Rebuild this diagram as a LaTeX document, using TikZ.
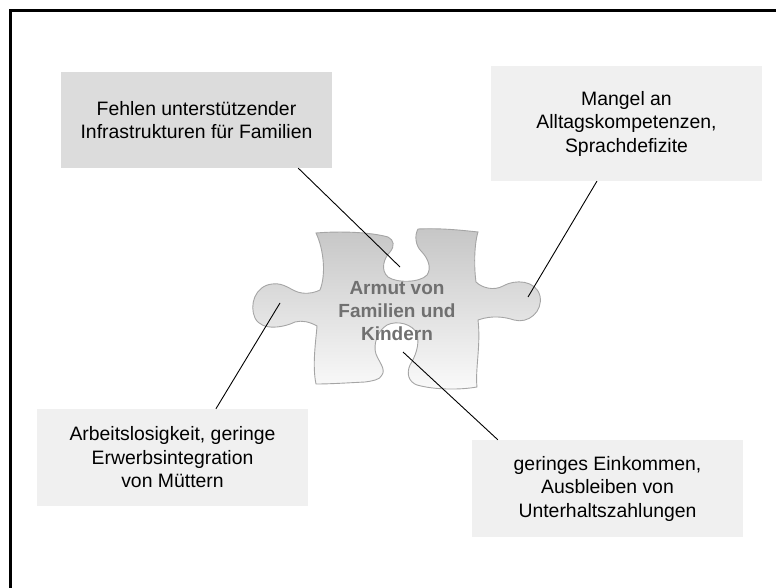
\documentclass[tikz,border=0pt]{standalone}
\usepackage{fontspec}
\setmainfont{Liberation Sans}
\usetikzlibrary{calc}
\definecolor{boxdark}{RGB}{220,220,220}
\definecolor{boxlight}{RGB}{240,240,240}
\definecolor{puzzletop}{RGB}{198,198,198}
\definecolor{puzzlebot}{RGB}{250,250,250}
\definecolor{puzzleline}{RGB}{165,165,165}
\definecolor{labelgray}{RGB}{112,112,112}
\tikzset{
  causebox/.style={fill=boxlight, draw=none, inner sep=0pt, minimum width=271pt,
    align=center, text=black, font=\fontsize{19.4}{23.5}\selectfont},
  connector/.style={draw=black, line width=0.9pt},
  frameline/.style={draw=black, line width=3pt},
}
\begin{document}
\begin{tikzpicture}[x=1pt,y=-1pt]
\useasboundingbox (0,0) rectangle (776,588);
% frame (only top and left edges visible)
\draw[frameline] (10,600) -- (10,10.7) -- (790,10.7);
% puzzle piece
\shade[top color=puzzletop, bottom color=puzzlebot, draw=puzzleline, line width=0.9pt]
 (316,233) .. controls (340,231) and (370,232) .. (388,237)
 .. controls (394,240) and (395,246) .. (390,252)
 .. controls (384,258) and (380,270) .. (388,277)
 .. controls (396,283) and (420,283) .. (427,275)
 .. controls (432,268) and (428,258) .. (421,251)
 .. controls (416,246) and (414,236) .. (418,229)
 .. controls (440,228) and (460,230) .. (478,232)
 .. controls (474,245) and (474,268) .. (476,282)
 .. controls (482,288) and (494,291) .. (503,286)
 .. controls (515,279) and (536,280) .. (540,296)
 .. controls (543,312) and (528,324) .. (514,320)
 .. controls (505,317) and (492,315) .. (478,320)
 .. controls (481,345) and (475,370) .. (477,387)
 .. controls (460,390) and (435,390) .. (417,385)
 .. controls (409,382) and (406,374) .. (410,365)
 .. controls (415,357) and (420,345) .. (417,334)
 .. controls (413,324) and (397,320) .. (387,325)
 .. controls (377,331) and (373,345) .. (376,354)
 .. controls (379,362) and (386,369) .. (382,375)
 .. controls (380,380) and (372,381) .. (365,382)
 .. controls (345,383) and (330,384) .. (316,384)
 .. controls (312,365) and (316,340) .. (317,326)
 .. controls (310,322) and (302,320) .. (295,322)
 .. controls (285,327) and (262,332) .. (255,318)
 .. controls (249,305) and (255,286) .. (272,284)
 .. controls (285,282) and (292,292) .. (302,293)
 .. controls (310,294) and (316,292) .. (320,290)
 .. controls (326,275) and (324,250) .. (316,233) -- cycle;
\node[text=labelgray, align=center, font=\fontsize{19}{23.3}\selectfont\bfseries] (center) at (397,311)
  {Armut von\\Familien und\\Kindern};
% boxes
\node[causebox, fill=boxdark, minimum height=96pt] (b1) at (196.5,120) {Fehlen unterstützender\\Infrastrukturen für Familien};
\node[causebox, minimum height=115pt] (b2) at (626.5,123.5) {Mangel an\\Alltagskompetenzen,\\Sprachdefizite};
\node[causebox, minimum height=97pt] (b3) at (172.5,457.5) {Arbeitslosigkeit, geringe\\Erwerbsintegration\\von Müttern};
\node[causebox, minimum height=97pt] (b4) at (607.5,488.5) {geringes Einkommen,\\Ausbleiben von\\Unterhaltszahlungen};
% connector end points on the puzzle
\coordinate (p1) at (400,267);
\coordinate (p2) at (528,297);
\coordinate (p3) at (280,303);
\coordinate (p4) at (403,352);
\draw[connector] ($(b1.south west)!0.875!(b1.south east)$) -- (p1);
\draw[connector] ($(b2.south west)!0.391!(b2.south east)$) -- (p2);
\draw[connector] ($(b3.north west)!0.66!(b3.north east)$) -- (p3);
\draw[connector] ($(b4.north west)!0.096!(b4.north east)$) -- (p4);
\end{tikzpicture}
\end{document}
